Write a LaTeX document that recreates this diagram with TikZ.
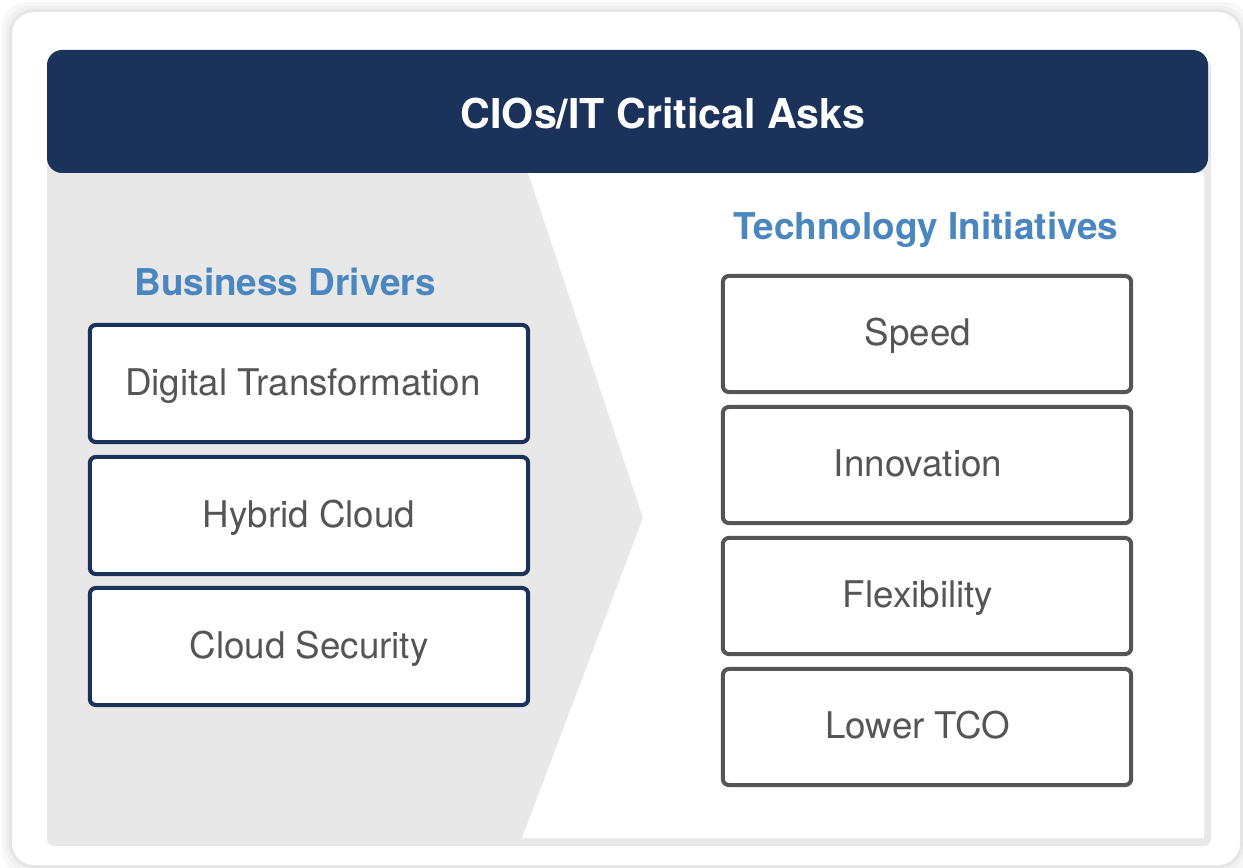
\documentclass[tikz,border=0pt]{standalone}
\usepackage{fontspec}
\setmainfont{TeX Gyre Heros}
\definecolor{navy}{HTML}{1B335A}
\definecolor{headblue}{HTML}{4A86C0}
\definecolor{panelgray}{HTML}{E8E8E8}
\definecolor{textgray}{HTML}{555555}
\tikzset{
  drivebox/.style={draw=navy, line width=1.15pt, rounded corners=1.7pt, fill=white,
    minimum width=4.38cm, minimum height=1.17cm, text=textgray,
    text height=1.4ex, text depth=.1ex, font=\fontsize{10.45}{12}\selectfont},
  initbox/.style={drivebox, draw=textgray, minimum width=4.08cm, minimum height=1.16cm},
  heading/.style={text=headblue, font=\fontsize{10.5}{12}\selectfont\bfseries},
}
\begin{document}
\begin{tikzpicture}[x=0.01cm, y=-0.01cm]
  \useasboundingbox (0,0) rectangle (1243,867);
  % Card with soft shadow
  \foreach \d/\c in {10/black!3, 6/black!6, 3/black!10}
    \fill[\c, rounded corners=7pt] (12-\d,12-\d) rectangle (1240+\d,865+\d);
  \fill[white, rounded corners=6.3pt] (12,12) rectangle (1240,865);

  % Panel and chevron
  \fill[panelgray, rounded corners=2pt] (47,60) rectangle (1211,846);
  \fill[white] (528,173) -- (643,518) -- (522,838) -- (1204,838) -- (1204,173) -- cycle;

  % Banner
  \fill[navy, rounded corners=4.3pt] (47,50) rectangle (1208,173);
  \node[text=white, font=\fontsize{11.7}{14}\selectfont\bfseries] (title) at (663,113) {CIOs/IT Critical Asks};

  % Headings
  \node[heading] (drivers) at (285,282) {Business Drivers};
  \node[heading] (initiatives) at (926,230) {Technology Initiatives};

  % Boxes
  \foreach \name/\y/\dx/\txt in {digital/383.5/-0.12cm/Digital Transformation, hybrid/515.5/0cm/Hybrid Cloud, security/646.5/0cm/Cloud Security}
    \node[drivebox] (\name) at (309,\y) {\hspace*{\dx}\txt};
  \foreach \name/\y/\txt in {speed/334/Speed, innovation/465/Innovation, flexibility/596/Flexibility, tco/727/Lower TCO}
    \node[initbox] (\name) at (927,\y) {\hspace*{-0.18cm}\txt};
\end{tikzpicture}
\end{document}
